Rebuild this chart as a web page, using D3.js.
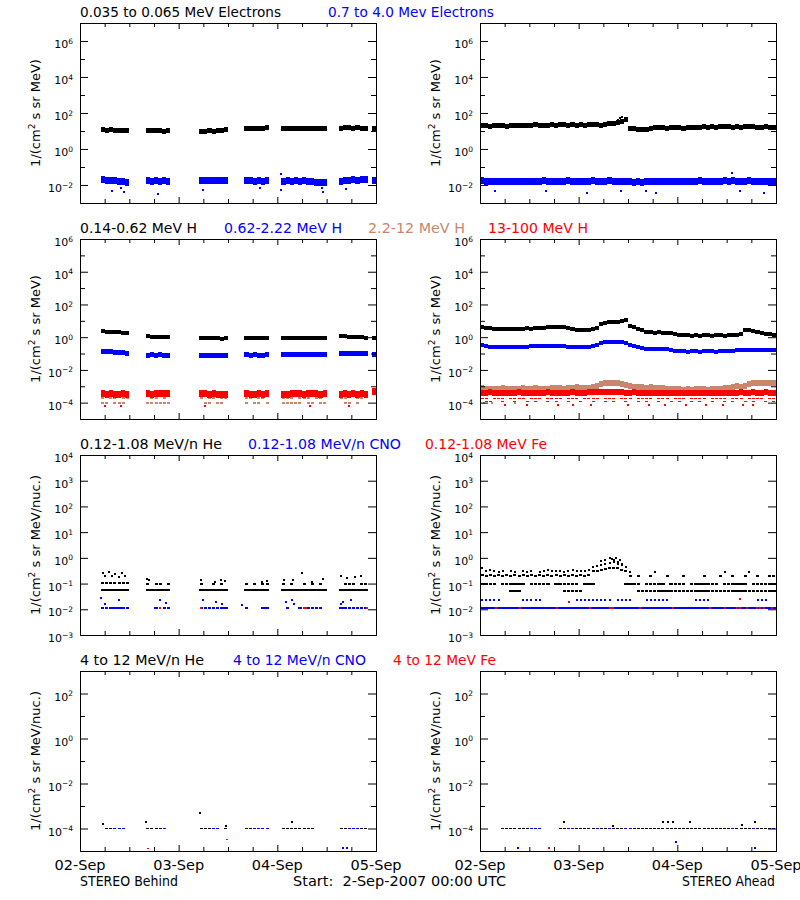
<!DOCTYPE html>
<html>
<head>
<meta charset="utf-8">
<script src="https://cdn.jsdelivr.net/npm/d3@7"></script>
<style>
  body { margin: 0; background: #fff; }
  text { font-family: "DejaVu Sans", sans-serif; white-space: pre; }
</style>
</head>
<body>
<svg id="chart" width="800" height="900"></svg>
<script>
var _ = null;

// hours after 2-Sep-2007 00:00 UTC
var behindHours = [5,6,7,8,9,10,11, 16,17,18,19,20,21, 29,30,31,32,33,34,35, 40,41,42,43,44,45,
                   49,50,51,52,53,54,55,56,57,58,59, 63,64,65,66,67,68,69, 71];
var aheadHours = d3.range(72);
var dayLabels = ["02-Sep", "03-Sep", "04-Sep", "05-Sep"];

// ---- STEREO Behind ----
var eLoB = [11.5,11,12,11,10.5,11,10.5, 11,10.5,11,10.5,10,10.5, 9.5,10,10.5,10,10.5,11,11.5, 14,13.5,14,14.5,14,15,
            13,13.5,13,14,13.5,13,14,13.5,13,13.5,13, 14,15,16,14.5,15,14,14.5, 14];
var eHiB = [0.019,0.018,0.017,0.018,0.016,0.015,0.014, 0.017,0.016,0.017,0.016,0.017,0.016,
            0.018,0.017,0.018,0.017,0.018,0.017,0.017, 0.018,0.017,0.016,0.017,0.016,0.017,
            0.016,0.017,0.016,0.017,0.016,0.017,0.016,0.015,0.014,0.013,0.014,
            0.016,0.017,0.018,0.019,0.018,0.019,0.02, 0.018];
var eHiBOut = [[7.7,0.0048],[9.9,0.0066],[10.6,0.0043],[19.0,0.0032],[29.8,0.0055],[43.8,0.0066],
               [49,0.005],[58.8,0.0066],[59.2,0.0043],[64.7,0.006],[49,0.039]];

var pLoB = [2.3,2.2,2.1,2.1,2.0,1.9,1.8, 1.15,1.1,1.1,1.05,1.1,1.05, 0.9,0.9,0.85,0.9,0.85,0.8,0.85,
            0.85,0.9,0.85,0.9,0.9,0.85, 0.85,0.9,0.85,0.9,0.9,0.85,0.9,0.9,0.95,0.9,0.95,
            1.2,1.15,1.1,1.1,1.05,1.0,0.95, 0.9];
var pMidB = [0.14,0.14,0.13,0.12,0.12,0.11,0.1, 0.08,0.085,0.08,0.085,0.08,0.08,
             0.08,0.08,0.075,0.08,0.075,0.08,0.08, 0.085,0.08,0.085,0.08,0.08,0.085,
             0.085,0.085,0.09,0.085,0.09,0.09,0.085,0.09,0.085,0.09,0.085,
             0.1,0.095,0.1,0.095,0.1,0.095,0.095, 0.09];
var pTanB = [9e-5,9e-5,_,9e-5,9e-5,9e-5,_, 9e-5,9e-5,9e-5,9e-5,9e-5,9e-5, _,9e-5,9e-5,_,9e-5,9e-5,_,
             9e-5,_,9e-5,9e-5,_,9e-5, 9e-5,9e-5,9e-5,9e-5,9e-5,_,9e-5,9e-5,_,9e-5,9e-5,
             _,9e-5,9e-5,_,9e-5,_,_, _];
var pTanB2 = [2e-4,_,2e-4,2e-4,_,2e-4,2e-4, _,2e-4,2e-4,_,2e-4,_, 2e-4,_,2e-4,2e-4,_,2e-4,2e-4,
              2e-4,2e-4,_,2e-4,2e-4,_, 2e-4,2e-4,2e-4,_,2e-4,2e-4,2e-4,_,2e-4,2e-4,_,
              2e-4,2e-4,2.5e-4,2.5e-4,2e-4,2e-4,_, _];
var pRedB = [3.4e-4,3.2e-4,3.5e-4,3.1e-4,3.3e-4,3.6e-4,3.2e-4, 3.5e-4,3.3e-4,3.6e-4,3.4e-4,3.8e-4,3.5e-4,
             3.6e-4,3.4e-4,3.2e-4,3.5e-4,3.3e-4,3.1e-4,3.3e-4, 3.4e-4,3.2e-4,3.3e-4,3.5e-4,3.2e-4,3.4e-4,
             3.2e-4,3.3e-4,3.5e-4,3.4e-4,3.6e-4,3.3e-4,3.5e-4,3.4e-4,3.6e-4,3.3e-4,3.5e-4,
             3.3e-4,3.4e-4,3.2e-4,3.5e-4,3.3e-4,3.4e-4,3.2e-4, 5e-4];
var pRedBOut = [[6,6e-5],[10,6.5e-5],[30.5,6e-5],[56,6e-5],[65.5,6e-5]];

var heB1 = [0.055,0.055,0.055,0.055,0.055,0.055,0.055, 0.055,0.055,0.055,0.055,0.055,0.055,
            0.055,0.055,0.055,0.055,0.055,0.055,0.055, 0.055,0.055,0.055,0.055,0.055,0.055,
            0.055,0.055,0.055,0.055,0.055,0.055,0.055,0.055,0.055,0.055,0.055,
            0.055,0.055,0.055,0.055,0.055,0.055,0.055, _];
var heB2 = [0.11,0.11,0.11,0.11,0.11,0.11,0.11, 0.1,_,0.1,0.1,_,0.1, 0.1,_,_,0.1,_,0.1,_,
            0.1,_,0.1,_,0.1,0.1, 0.1,_,0.1,_,_,0.1,_,0.1,_,0.1,_, _,0.1,0.1,0.1,_,0.1,0.1, _];
var heBOut = [[5.5,0.25],[6.2,0.2],[7,0.27],[7.8,0.2],[8.6,0.24],[9.4,0.18],[10.2,0.25],[11,0.2],
              [16.2,0.15],[16.8,0.14],[29.5,0.14],[32.8,0.12],[34.2,0.14],[35.3,0.13],[44.2,0.12],
              [45.5,0.13],[49.5,0.14],[51.8,0.14],[54,0.25],[56.5,0.12],[59,0.15],[63.5,0.2],
              [65,0.17],[67,0.18],[68.3,0.2]];
var cnoB = [0.011,0.011,0.011,0.011,0.011,0.011,0.011, _,_,0.011,_,0.011,0.011,
            0.011,0.011,0.011,0.011,0.011,0.011,0.011, 0.011,_,_,_,0.011,0.011,
            _,0.011,_,_,0.011,_,0.011,0.011,0.011,0.011,_, 0.011,0.011,0.011,0.011,0.011,0.011,0.011, _];
var cnoBOut = [[5.2,0.028],[6,0.016],[9.5,0.022],[19.5,0.022],[21,0.018],[30,0.022],[33,0.02],
               [34.5,0.016],[39.5,0.015],[50,0.02],[51.5,0.022],[52,0.016],[63.5,0.016],[64,0.02],[66,0.022]];
var feB = [[19.5,0.011],[29.5,0.011],[54.5,0.011],[55,0.011],[69.7,0.011]];

var tLowB = [_,1e-4,1e-4,1e-4,_,_,_, 1e-4,1e-4,1e-4,1e-4,_,_, 1e-4,1e-4,1e-4,_,_,_,1e-4,
             1e-4,1e-4,1e-4,_,_,_, 1e-4,1e-4,1e-4,1e-4,1e-4,1e-4,1e-4,1e-4,_,_,_,
             1e-4,1e-4,1e-4,_,_,1e-4,1e-4, _];
var tCnoB = [_,_,_,1e-4,1e-4,1e-4,_, _,_,_,_,1e-4,_, _,_,_,1e-4,1e-4,_,_,
             _,_,1e-4,1e-4,1e-4,1e-4, _,_,_,_,_,_,_,_,_,_,_, _,_,1e-4,1e-4,1e-4,_,_, _];
var tHeBOut = [[5.5,1.6e-4],[16.1,2e-4],[29.2,5e-4],[35.6,1.3e-4],[51.5,2e-4]];
var tCnoBOut = [[64,1.3e-5],[65,1.3e-5]];
var tFeBOut = [[16.6,1.3e-5],[35.7,3.3e-5]];

// ---- STEREO Ahead ----
var eLoA = [19,20,18,19,20,19,18,19,20,19,21,20,
            21,22,21,20,21,22,21,22,23,21,22,21,
            22,21,22,23,22,21,24,26,25,28,32,45,
            14,13,12,11.5,12,13,15,16,15,14,15,16,
            15,14,15,16,15,16,17,16,17,16,17,18,
            17,16,17,16,17,18,17,16,15,17,16,16];
var eLoAOut = [[33.5,40],[34,50],[34.6,58]];
var eHiA = [0.017,0.016,0.015,0.016,0.015,0.016,0.015,0.016,0.015,0.016,0.015,0.016,
            0.016,0.015,0.016,0.017,0.016,0.015,0.016,0.015,0.016,0.017,0.016,0.015,
            0.016,0.015,0.016,0.017,0.016,0.015,0.016,0.017,0.016,0.015,0.016,0.015,
            0.015,0.014,0.015,0.014,0.015,0.016,0.015,0.016,0.015,0.016,0.015,0.016,
            0.016,0.015,0.016,0.015,0.016,0.017,0.016,0.015,0.016,0.015,0.016,0.017,
            0.016,0.017,0.016,0.015,0.016,0.017,0.016,0.015,0.016,0.015,0.016,0.015];
var eHiAOut = [[3.6,0.0048],[16.1,0.0046],[26,0.0035],[34.2,0.0048],[40.3,0.0046],[42.7,0.0035],
               [63.2,0.0048],[69.1,0.0035],[61.2,0.045]];

var pLoA = [4.0,3.6,3.4,3.3,3.2,3.3,3.2,3.3,3.3,3.2,3.3,3.4,
            3.3,3.4,3.5,3.7,4.0,4.2,4.4,4.0,4.2,3.8,3.0,2.8,
            2.7,2.8,2.9,3.0,3.4,6.5,7.5,8.0,8.5,9.0,10,11,
            5.0,4.0,3.2,2.6,2.0,2.0,1.9,2.0,1.9,1.8,1.7,1.5,
            1.4,1.3,1.3,1.2,1.3,1.2,1.3,1.3,1.2,1.3,1.3,1.2,
            1.3,1.3,1.4,1.6,2.6,2.8,2.5,2.2,1.7,1.5,1.5,1.4];
var pMidA = [0.33,0.28,0.26,0.25,0.26,0.25,0.24,0.25,0.26,0.25,0.25,0.26,
             0.27,0.28,0.29,0.30,0.31,0.30,0.29,0.28,0.27,0.26,0.25,0.24,
             0.25,0.24,0.25,0.27,0.32,0.42,0.48,0.52,0.5,0.5,0.48,0.45,
             0.34,0.28,0.25,0.22,0.2,0.19,0.2,0.19,0.2,0.18,0.16,0.15,
             0.14,0.14,0.13,0.14,0.14,0.13,0.14,0.14,0.14,0.13,0.14,0.14,
             0.15,0.15,0.16,0.16,0.17,0.17,0.17,0.16,0.17,0.16,0.16,0.17];
var pTanA = [8e-4,7e-4,7e-4,6.5e-4,7e-4,7.5e-4,7e-4,6.5e-4,7e-4,7e-4,7.5e-4,7e-4,
             7e-4,7.5e-4,7e-4,6.5e-4,7e-4,7.5e-4,8e-4,7.5e-4,7e-4,7.5e-4,8e-4,8.5e-4,
             8e-4,7.5e-4,8e-4,9e-4,1e-3,1.3e-3,1.5e-3,1.6e-3,1.5e-3,1.6e-3,1.4e-3,1.2e-3,
             1e-3,9.5e-4,9e-4,8.5e-4,8e-4,9e-4,8e-4,7.5e-4,8e-4,7e-4,7e-4,6.5e-4,
             6.5e-4,6e-4,6.5e-4,6e-4,6.5e-4,7e-4,6.5e-4,6e-4,6.5e-4,7e-4,6.5e-4,7.5e-4,
             8e-4,9e-4,1e-3,9.5e-4,1.1e-3,1.3e-3,1.5e-3,1.6e-3,1.5e-3,1.6e-3,1.5e-3,1.6e-3];
var pTanAOut = [[1,9e-5],[3,1e-4],[8.5,9e-5]];
var pRedA = [4e-4,3.8e-4,4.2e-4,4e-4,3.9e-4,4.1e-4,4e-4,3.8e-4,4e-4,4.2e-4,4e-4,3.9e-4,
             4e-4,4.1e-4,3.9e-4,4e-4,4.2e-4,4e-4,3.8e-4,4e-4,4.1e-4,4e-4,4.2e-4,4e-4,
             4.1e-4,4e-4,4.2e-4,4.3e-4,4.2e-4,4.4e-4,4.5e-4,4.3e-4,4.4e-4,4.2e-4,4.3e-4,4.1e-4,
             4e-4,4.2e-4,4e-4,3.9e-4,4e-4,4.1e-4,4e-4,3.9e-4,4e-4,3.8e-4,4e-4,3.9e-4,
             3.8e-4,4e-4,3.9e-4,3.8e-4,4e-4,3.9e-4,4e-4,3.8e-4,3.9e-4,4e-4,3.8e-4,4e-4,
             4e-4,4.1e-4,4e-4,4.2e-4,4e-4,4.1e-4,4.2e-4,4e-4,4.1e-4,4.2e-4,4e-4,4.1e-4];
var pRedA2 = [1.8e-4,1.8e-4,_,1.8e-4,1.8e-4,1.8e-4,_,1.8e-4,1.8e-4,1.8e-4,1.8e-4,_,
              1.8e-4,1.8e-4,1.8e-4,_,1.8e-4,1.8e-4,1.8e-4,1.8e-4,_,1.8e-4,1.8e-4,1.8e-4,
              _,1.8e-4,1.8e-4,1.8e-4,1.8e-4,_,1.8e-4,1.8e-4,1.8e-4,_,1.8e-4,1.8e-4,
              1.8e-4,_,1.8e-4,1.8e-4,1.8e-4,1.8e-4,_,1.8e-4,1.8e-4,1.8e-4,_,1.8e-4,
              1.8e-4,1.8e-4,_,1.8e-4,1.8e-4,1.8e-4,1.8e-4,_,1.8e-4,1.8e-4,1.8e-4,1.8e-4,
              _,1.8e-4,1.8e-4,1.8e-4,_,1.8e-4,1.8e-4,1.8e-4,1.8e-4,_,1.8e-4,1.8e-4];
var pRedA3 = [_,1.2e-4,1.2e-4,_,_,1.2e-4,_,_,1.2e-4,_,_,1.2e-4,
              _,1.2e-4,_,_,1.2e-4,_,1.2e-4,_,_,1.2e-4,_,_,
              1.2e-4,_,_,1.2e-4,_,_,1.2e-4,_,1.2e-4,_,_,1.2e-4,
              _,_,1.2e-4,_,1.2e-4,_,_,1.2e-4,_,_,1.2e-4,_,
              1.2e-4,_,_,1.2e-4,_,1.2e-4,_,_,1.2e-4,_,_,1.2e-4,
              _,1.2e-4,_,_,1.2e-4,_,1.2e-4,_,_,1.2e-4,_,1.2e-4];
var pRedAOut = [[6,7e-5],[11.5,7e-5],[19,7e-5],[22.5,7e-5],[27,7e-5],[36,7e-5],[41,7e-5],
                [45,7e-5],[50,7e-5],[55,7e-5],[59,7e-5],[64,7e-5],[66.5,7e-5]];

var heA05 = [_,_,_,_,_,_,_,0.05,0.05,0.05,_,_,
             _,_,_,_,_,_,_,_,0.05,0.05,0.05,0.05,
             0.05,_,_,_,_,_,_,_,_,_,_,_,
             _,_,0.05,0.05,0.05,0.05,0.05,0.05,0.05,0.05,0.05,0.05,
             0.05,0.05,0.05,0.05,0.05,0.05,0.05,0.05,0.05,0.05,0.05,0.05,
             0.05,0.05,0.05,0.05,0.05,0.05,0.05,0.05,0.05,0.05,0.05,0.05];
var heA1 = [0.1,0.1,0.1,0.1,_,0.1,0.1,0.1,0.1,0.1,0.1,_,
            0.1,0.1,0.1,0.1,0.1,_,0.1,0.1,0.1,0.1,0.1,0.1,
            _,0.1,0.1,0.1,_,_,_,_,_,_,_,0.1,
            0.1,0.1,0.1,_,0.1,0.1,0.1,0.1,0.1,_,0.1,0.1,
            0.1,0.1,_,0.1,0.1,0.1,0.1,0.1,0.1,0.1,_,0.1,
            0.1,0.1,0.1,0.1,0.1,_,0.1,0.1,0.1,0.1,0.1,0.1];
var heA2 = [0.22,0.2,0.21,0.2,0.22,0.2,0.21,0.2,0.22,0.2,0.21,0.2,
            0.22,0.2,0.21,0.2,0.22,0.2,0.21,0.2,0.22,0.2,0.21,0.2,
            0.22,0.2,0.22,0.3,0.32,0.35,0.38,0.4,0.42,0.4,0.35,0.3,
            0.2,_,0.2,_,_,0.2,_,_,_,0.2,_,_,
            _,0.2,_,_,_,_,0.2,_,_,_,0.2,_,
            _,0.2,_,_,0.2,_,_,0.2,_,_,0.2,0.2];
var heA3 = [0.4,0.3,0.35,0.3,0.28,0.3,_,0.3,0.28,_,0.3,0.28,
            0.3,_,0.28,0.3,0.35,0.3,0.32,0.3,0.28,0.3,0.35,0.3,
            0.32,0.3,0.35,0.45,0.5,0.55,0.6,0.65,0.7,0.6,0.55,0.45,
            0.28,_,_,_,_,_,0.28,_,_,_,_,_,
            _,_,_,_,_,_,_,_,_,_,_,0.28,
            _,_,_,_,_,0.28,_,_,_,_,_,_];
var heAPeak = [[29.5,0.75],[30.5,0.85],[31.5,1.0],[32,0.9],[32.5,0.8],[33,0.95],[33.5,0.7],[34,0.8],[34.5,0.6]];
var cnoA = [0.011,0.011,0.011,0.011,0.011,0.011,0.011,0.011,0.011,0.011,0.011,0.011,
            0.011,0.011,0.011,0.011,0.011,0.011,0.011,0.011,0.011,0.011,0.011,0.011,
            0.011,0.011,0.011,0.011,0.011,0.011,0.011,0.011,0.011,0.011,0.011,0.011,
            0.011,0.011,0.011,0.011,0.011,0.011,0.011,0.011,0.011,0.011,0.011,0.011,
            0.011,0.011,0.011,0.011,0.011,0.011,0.011,0.011,0.011,0.011,0.011,0.011,
            0.011,0.011,0.011,0.011,0.011,0.011,0.011,0.011,0.011,0.011,0.011,0.011];
var cnoA2 = [0.022,0.022,0.022,0.022,0.022,_,_,_,_,_,0.022,0.022,
             0.022,0.022,0.022,_,_,_,_,_,_,_,_,0.022,
             0.022,0.022,0.022,0.022,0.022,0.022,0.022,0.022,_,0.022,0.022,0.022,
             0.022,_,_,_,0.022,0.022,0.022,0.022,0.022,0.022,_,_,
             _,_,_,_,0.022,0.022,0.022,0.022,_,_,_,_,
             _,_,_,_,_,_,_,0.022,0.022,0.022,_,_];
var feA = [[4,0.011],[9.7,0.011],[18.7,0.011],[26.8,0.011],[31.6,0.011],[32.4,0.011],[38.9,0.011],
           [47,0.011],[56,0.011],[59.6,0.011],[62.4,0.011],[63.2,0.011],[64.9,0.011],[67.3,0.011],
           [68,0.011],[69,0.011],[71,0.011],[21.6,0.02],[63.3,0.025]];

var tLowA = [_,_,_,_,_,1e-4,1e-4,1e-4,1e-4,1e-4,1e-4,1e-4,
             _,_,_,_,_,_,_,1e-4,1e-4,_,_,1e-4,
             1e-4,1e-4,1e-4,1e-4,_,1e-4,1e-4,_,1e-4,1e-4,1e-4,_,
             _,1e-4,1e-4,1e-4,1e-4,1e-4,1e-4,1e-4,1e-4,1e-4,1e-4,1e-4,
             1e-4,1e-4,1e-4,1e-4,1e-4,1e-4,1e-4,1e-4,1e-4,1e-4,1e-4,1e-4,
             1e-4,_,1e-4,1e-4,1e-4,1e-4,_,1e-4,1e-4,1e-4,1e-4,_];
var tCnoA = [_,_,_,_,_,_,_,_,_,_,_,_,
             1e-4,1e-4,1e-4,_,_,_,_,_,_,1e-4,1e-4,_,
             _,_,_,_,1e-4,_,_,1e-4,_,_,_,1e-4,
             1e-4,_,_,_,_,_,_,_,_,_,_,_,
             _,_,_,_,_,_,_,_,_,_,_,_,
             _,1e-4,_,_,_,_,1e-4,_,_,_,_,1e-4];
var tHeAOut = [[20.5,2e-4],[32.4,1.3e-4],[44.5,2e-4],[45.7,2e-4],[47,2e-4],[51.2,2e-4],[63.7,1.5e-4],[67,2e-4]];
var tCnoAOut = [[9.2,1.3e-5],[47.6,2.6e-5],[67,1.3e-5]];
var tFeAOut = [[16.8,1.3e-5]];

// ---- layout & style ----
var black = "#000000", blue = "#0000ff", red = "#ff0000", tan = "#c9866a";
var panelW = 296, panelH = 180;
var colLeft = [80, 480];
var rowTop = [23, 239, 455, 671];

var rows = [
  {exps: [-3, 7], labelled: [-2, 0, 2, 4, 6], unit: " s sr MeV)"},
  {exps: [-5, 6], labelled: [-4, -2, 0, 2, 4, 6], unit: " s sr MeV)"},
  {exps: [-3, 4], labelled: [-3, -2, -1, 0, 1, 2, 3, 4], unit: " s sr MeV/nuc.)"},
  {exps: [-5, 3], labelled: [-4, -2, 0, 2], unit: " s sr MeV/nuc.)"}
];

var panels = [
  [ // electrons
    [{hours: behindHours, vals: eLoB, color: black, h: 5},
     {hours: behindHours, vals: eHiB, color: blue, h: 7},
     {pts: eHiBOut, color: blue, s: 2}],
    [{hours: aheadHours, vals: eLoA, color: black, h: 5},
     {pts: eLoAOut, color: black, s: 2},
     {hours: aheadHours, vals: eHiA, color: blue, h: 7},
     {pts: eHiAOut, color: blue, s: 2}]
  ],
  [ // protons
    [{hours: behindHours, vals: pLoB, color: black, h: 4},
     {hours: behindHours, vals: pMidB, color: blue, h: 5},
     {hours: behindHours, vals: pTanB, color: tan, h: 2, w: 3},
     {hours: behindHours, vals: pTanB2, color: tan, h: 2, w: 3},
     {hours: behindHours, vals: pRedB, color: red, h: 7},
     {pts: pRedBOut, color: red, s: 2}],
    [{hours: aheadHours, vals: pLoA, color: black, h: 4},
     {hours: aheadHours, vals: pMidA, color: blue, h: 4},
     {hours: aheadHours, vals: pTanA, color: tan, h: 6},
     {pts: pTanAOut, color: tan, s: 2},
     {hours: aheadHours, vals: pRedA, color: red, h: 6},
     {hours: aheadHours, vals: pRedA2, color: red, h: 1.5, w: 3},
     {hours: aheadHours, vals: pRedA3, color: red, h: 1.5, w: 3},
     {pts: pRedAOut, color: red, s: 2}]
  ],
  [ // low energy heavy ions
    [{hours: behindHours, vals: heB1, color: black, h: 2.5},
     {hours: behindHours, vals: heB2, color: black, h: 2, w: 3},
     {pts: heBOut, color: black, s: 2},
     {hours: behindHours, vals: cnoB, color: blue, h: 2, w: 3.5},
     {pts: cnoBOut, color: blue, s: 2},
     {pts: feB, color: red, s: 2}],
    [{hours: aheadHours, vals: heA05, color: black, h: 2, w: 3.5},
     {hours: aheadHours, vals: heA1, color: black, h: 2, w: 3.5},
     {hours: aheadHours, vals: heA2, color: black, h: 2, w: 3},
     {hours: aheadHours, vals: heA3, color: black, h: 2, w: 2},
     {pts: heAPeak, color: black, s: 2},
     {hours: aheadHours, vals: cnoA, color: blue, h: 2.5},
     {hours: aheadHours, vals: cnoA2, color: blue, h: 2, w: 2},
     {pts: feA, color: red, s: 2}]
  ],
  [ // high energy heavy ions
    [{hours: behindHours, vals: tLowB, color: black, h: 1.5, w: 3},
     {hours: behindHours, vals: tCnoB, color: blue, h: 1.5, w: 3},
     {pts: tHeBOut, color: black, s: 2},
     {pts: tCnoBOut, color: blue, s: 2},
     {pts: tFeBOut, color: red, s: 1.5}],
    [{hours: aheadHours, vals: tLowA, color: black, h: 1.5, w: 3},
     {hours: aheadHours, vals: tCnoA, color: blue, h: 1.5, w: 3},
     {pts: tHeAOut, color: black, s: 2},
     {pts: tCnoAOut, color: blue, s: 2},
     {pts: tFeAOut, color: red, s: 2}]
  ]
];

var titles = [
  [["0.035 to 0.065 MeV Electrons", black, 80, 201], ["0.7 to 4.0 Mev Electrons", blue, 328, 166]],
  [["0.14-0.62 MeV H", black, 80, 117], ["0.62-2.22 MeV H", blue, 224, 118],
   ["2.2-12 MeV H", tan, 368, 97], ["13-100 MeV H", red, 488, 100]],
  [["0.12-1.08 MeV/n He", black, 80, 142], ["0.12-1.08 MeV/n CNO", blue, 248, 153],
   ["0.12-1.08 MeV Fe", red, 425, 122]],
  [["4 to 12 MeV/n He", black, 80, 124], ["4 to 12 MeV/n CNO", blue, 233, 133],
   ["4 to 12 MeV Fe", red, 393, 103]]
];

// ---- drawing ----
var svg = d3.select("#chart");
var t0 = Date.UTC(2007, 8, 2);
function hourDate(h) { return new Date(t0 + h * 3600e3); }

var x = d3.scaleUtc().domain([hourDate(0), hourDate(72)]).range([0, panelW]);
var dayTicks = [0, 24, 48, 72].map(hourDate);
var sixTicks = [6, 12, 18, 30, 36, 42, 54, 60, 66].map(hourDate);

function drawLayer(g, y, L) {
  if (L.pts) {
    g.append("g").selectAll("rect").data(L.pts).join("rect")
      .attr("x", function(d) { return x(hourDate(d[0])) - L.s / 2; })
      .attr("y", function(d) { return y(d[1]) - L.s / 2; })
      .attr("width", L.s).attr("height", L.s)
      .attr("fill", L.color);
    return;
  }
  var data = L.hours.map(function(h, i) { return [h, L.vals[i]]; })
    .filter(function(d) { return d[1] != null; });
  g.append("g").selectAll("rect").data(data).join("rect")
    .attr("x", function(d) { return L.w ? x(hourDate(d[0] + 0.5)) - L.w / 2 : x(hourDate(d[0])); })
    .attr("width", function(d) { return L.w ? L.w : x(hourDate(d[0] + 1)) - x(hourDate(d[0])); })
    .attr("y", function(d) { return y(d[1]) - L.h / 2; })
    .attr("height", L.h)
    .attr("fill", L.color);
}

function noDomain(a) { a.select(".domain").remove(); }

rows.forEach(function(row, r) {
  var y = d3.scaleLog().domain([Math.pow(10, row.exps[0]), Math.pow(10, row.exps[1])]).range([panelH, 0]);
  var allDec = d3.range(row.exps[0], row.exps[1] + 1);
  var major = allDec.filter(function(e) { return row.labelled.indexOf(e) >= 0; }).map(function(e) { return Math.pow(10, e); });
  var minor = allDec.filter(function(e) { return row.labelled.indexOf(e) < 0; }).map(function(e) { return Math.pow(10, e); });

  [0, 1].forEach(function(c) {
    var g = svg.append("g").attr("transform", "translate(" + colLeft[c] + "," + rowTop[r] + ")");
    var clipId = "clip" + r + c;
    g.append("clipPath").attr("id", clipId).append("rect").attr("width", panelW).attr("height", panelH);
    var marks = g.append("g").attr("clip-path", "url(#" + clipId + ")").attr("shape-rendering", "crispEdges");
    panels[r][c].forEach(function(L) { drawLayer(marks, y, L); });

    // frame
    g.append("rect").attr("x", 0.5).attr("y", 0.5).attr("width", panelW).attr("height", panelH)
      .attr("fill", "none").attr("stroke", black).attr("shape-rendering", "crispEdges");

    // y ticks on both sides, pointing inward
    [[major, 8], [minor, 5]].forEach(function(tk) {
      g.append("g").call(d3.axisLeft(y).tickValues(tk[0]).tickSize(-tk[1]).tickFormat("")).call(noDomain);
      g.append("g").attr("transform", "translate(" + panelW + ",0)")
        .call(d3.axisRight(y).tickValues(tk[0]).tickSize(-tk[1]).tickFormat("")).call(noDomain);
    });
    // x ticks top and bottom
    [[dayTicks, 6], [sixTicks, 4]].forEach(function(tk) {
      g.append("g").attr("transform", "translate(0," + panelH + ")")
        .call(d3.axisBottom(x).tickValues(tk[0]).tickSize(-tk[1]).tickFormat("")).call(noDomain);
      g.append("g").call(d3.axisTop(x).tickValues(tk[0]).tickSize(-tk[1]).tickFormat("")).call(noDomain);
    });

    // y tick labels
    row.labelled.forEach(function(e) {
      var t = g.append("text").attr("x", -7).attr("y", y(Math.pow(10, e)) + 7)
        .attr("text-anchor", "end").attr("font-size", 11).text("10");
      t.append("tspan").attr("dy", -4.5).attr("font-size", 7.5).text(String(e).replace("-", "\u2212"));
    });

    // y axis title
    var yt = g.append("text").attr("transform", "translate(-40," + (panelH / 2) + ") rotate(-90)")
      .attr("text-anchor", "middle").attr("font-size", 13).text("1/(cm");
    yt.append("tspan").attr("dy", -5).attr("font-size", 9).text("2");
    yt.append("tspan").attr("dy", 5).text(row.unit);

    // x tick labels on the bottom row
    if (r === rows.length - 1) {
      g.selectAll(".daylab").data(dayTicks).join("text")
        .attr("x", function(d) { return x(d); }).attr("y", panelH + 19)
        .attr("text-anchor", "middle").attr("font-size", 13.5)
        .attr("textLength", 51).attr("lengthAdjust", "spacingAndGlyphs")
        .text(function(d, i) { return dayLabels[i]; });
    }
  });

  titles[r].forEach(function(tt) {
    svg.append("text").attr("x", tt[2]).attr("y", rowTop[r] - 6)
      .attr("fill", tt[1]).attr("font-size", 13.5)
      .attr("textLength", tt[3]).attr("lengthAdjust", "spacingAndGlyphs")
      .text(tt[0]);
  });
});

[["STEREO Behind", 80, 98], ["Start:  2-Sep-2007 00:00 UTC", 293, 213], ["STEREO Ahead", 682, 93]]
  .forEach(function(ft) {
    svg.append("text").attr("x", ft[1]).attr("y", 886).attr("font-size", 13.5)
      .attr("textLength", ft[2]).attr("lengthAdjust", "spacingAndGlyphs").text(ft[0]);
  });
</script>
</body>
</html>
